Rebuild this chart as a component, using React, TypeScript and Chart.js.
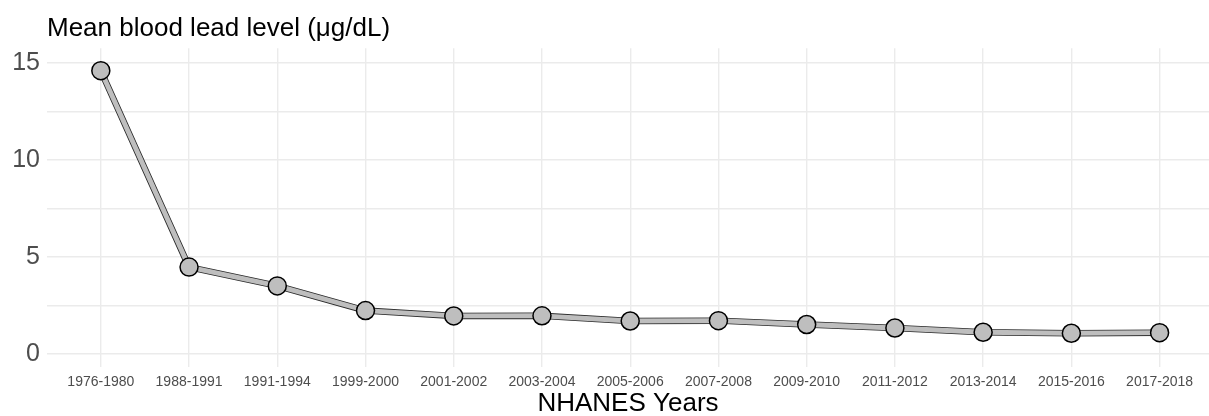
import React, { useEffect, useRef } from "react";
import { Chart, registerables } from "chart.js";

Chart.register(...registerables);

const categories = [
  "1976-1980", "1988-1991", "1991-1994", "1999-2000", "2001-2002", "2003-2004",
  "2005-2006", "2007-2008", "2009-2010", "2011-2012", "2013-2014", "2015-2016", "2017-2018",
];
const meanLead = [14.6, 4.48, 3.51, 2.24, 1.96, 1.97, 1.7, 1.72, 1.52, 1.34, 1.12, 1.07, 1.1];
const yTicks = [0, 2.5, 5, 7.5, 10, 12.5, 15];
const yLabelled = [0, 5, 10, 15];

const FONT = "'Liberation Sans', Arial, Helvetica, sans-serif";

export default function App() {
  const ref = useRef<HTMLCanvasElement | null>(null);

  useEffect(() => {
    if (!ref.current) return;
    const pts = meanLead.map((v, i) => ({ x: i, y: v }));
    const chart = new Chart(ref.current, {
      type: "line",
      data: {
        datasets: [
          {
            label: "outline",
            data: pts,
            borderColor: "#2a2a2a",
            borderWidth: 6.5,
            pointRadius: 0,
            tension: 0,
            borderJoinStyle: "round",
            order: 2,
          },
          {
            label: "Mean blood lead level",
            data: pts,
            borderColor: "#bebebe",
            borderWidth: 4.8,
            pointRadius: 9,
            pointBackgroundColor: "#bebebe",
            pointBorderColor: "#000000",
            pointBorderWidth: 1.5,
            tension: 0,
            borderJoinStyle: "round",
            order: 1,
          },
        ],
      },
      options: {
        responsive: false,
        animation: false,
        layout: { autoPadding: false, padding: { left: 0, right: 0, top: 0, bottom: 0 } },
        plugins: {
          legend: { display: false },
          tooltip: { enabled: false },
          title: {
            display: true,
            text: "Mean blood lead level (μg/dL)",
            align: "start",
            fullSize: false,
            color: "#000000",
            font: { family: FONT, size: 26, weight: "normal", lineHeight: 1.2 },
            padding: { top: 13, bottom: 4 },
          },
        },
        scales: {
          x: {
            type: "linear",
            min: -0.61,
            max: 12.56,
            afterBuildTicks: (scale: any) => {
              scale.ticks = categories.map((_, i) => ({ value: i }));
            },
            afterFit: (scale: any) => {
              scale.height = 49;
              scale.paddingLeft = 0;
              scale.paddingRight = 0;
            },
            border: { display: false },
            grid: { color: "#ebebeb", lineWidth: 1.4, drawTicks: false },
            ticks: {
              color: "#4d4d4d",
              font: { family: FONT, size: 14 },
              padding: 7,
              maxRotation: 0,
              autoSkip: false,
              callback: (v: any) => categories[Math.round(Number(v))] ?? "",
            },
            title: {
              display: true,
              text: "NHANES Years",
              color: "#000000",
              font: { family: FONT, size: 26, lineHeight: 0.9 },
              padding: 0,
            },
          },
          y: {
            type: "linear",
            min: -0.67,
            max: 15.76,
            afterBuildTicks: (scale: any) => {
              scale.ticks = yTicks.map((v) => ({ value: v }));
            },
            afterFit: (scale: any) => {
              scale.width = 47;
              scale.paddingTop = 0;
              scale.paddingBottom = 0;
            },
            border: { display: false },
            grid: { color: "#ebebeb", lineWidth: 1.4, drawTicks: false },
            ticks: {
              color: "#4d4d4d",
              font: { family: FONT, size: 25 },
              padding: 7,
              autoSkip: false,
              callback: (v: any) => (yLabelled.includes(Number(v)) ? String(v) : ""),
            },
          },
        },
      },
    });
    return () => chart.destroy();
  }, []);

  return (
    <div style={{ position: "absolute", left: 0, top: 0, width: 1209, height: 416, background: "#ffffff" }}>
      <canvas ref={ref} width={1209} height={416} />
    </div>
  );
}
